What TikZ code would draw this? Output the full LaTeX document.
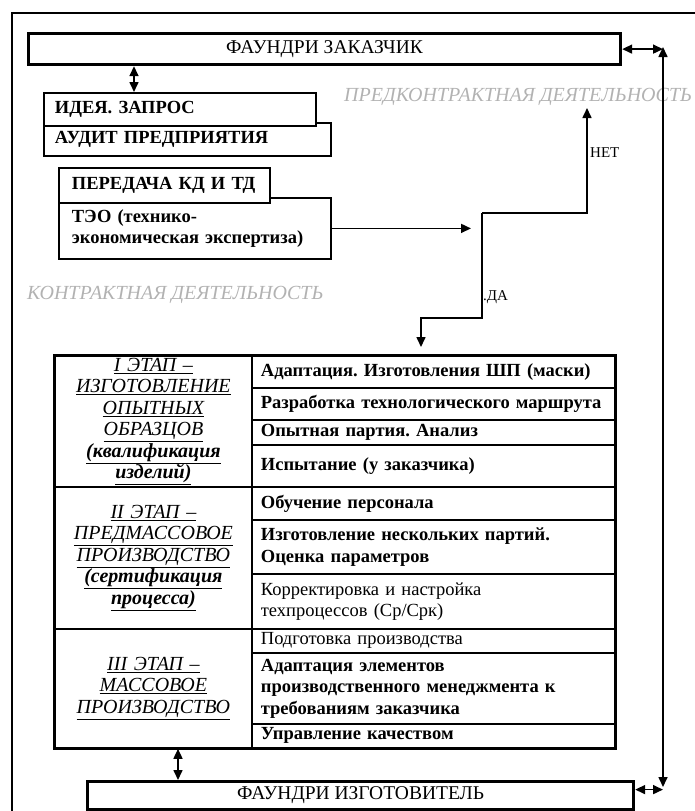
\documentclass[tikz,border=0pt]{standalone}
\usepackage{fontspec}
\setmainfont{Liberation Serif}
\usetikzlibrary{arrows.meta}
\newcommand{\stg}[1]{\underline{#1}}
\frenchspacing

\begin{document}
\begin{tikzpicture}[x=1pt, y=-1pt,
    every node/.style={font=\fontsize{18.5}{21.5}\selectfont, inner sep=0pt},
    thickbox/.style={draw, line width=3.2pt, fill=white, anchor=north west, font=\fontsize{19.5}{22}\selectfont},
    plainbox/.style={draw, line width=1.8pt, fill=white, anchor=north west, align=left, inner xsep=11pt, font=\fontsize{18.5}{21.5}\selectfont\bfseries},
    cell/.style={draw, line width=1.8pt, anchor=north west, align=left, inner xsep=9pt, text width=345pt, font=\fontsize{18.5}{21.5}\selectfont\bfseries},
    stagecell/.style={draw, line width=1.8pt, anchor=north west, align=center, text width=197pt, font=\fontsize{20}{21.5}\selectfont\itshape},
    phase/.style={text=gray!60, anchor=west, font=\fontsize{20}{24}\selectfont\itshape},
    lbl/.style={anchor=west, font=\fontsize{15}{17}\selectfont},
    arr/.style={line width=1.6pt, -{Triangle[length=10pt, width=9pt]}},
    dblarr/.style={line width=1.6pt, {Triangle[length=10pt, width=9pt]}-{Triangle[length=10pt, width=9pt]}}
]
\useasboundingbox (0,0) rectangle (695,811);
\draw[line width=1.6pt] (695,13) -- (12,13) -- (12,811);

\node[thickbox, minimum width=592, minimum height=31] (zak) at (27,32) {ФАУНДРИ ЗАКАЗЧИК};
\node[thickbox, minimum width=546, minimum height=28] (izg) at (86,780) {ФАУНДРИ ИЗГОТОВИТЕЛЬ};

\node[plainbox, text width=265, minimum height=33] (audit) at (43,122) {АУДИТ ПРЕДПРИЯТИЯ};
\node[plainbox, text width=250, minimum height=33] (idea) at (43,92) {ИДЕЯ. ЗАПРОС};
\node[plainbox, inner xsep=13pt, text width=246, minimum height=61] (teo) at (58,197) {ТЭО (технико-\\экономическая экспертиза)};
\node[plainbox, inner xsep=13pt, text width=185, minimum height=35] (kd) at (58,167) {ПЕРЕДАЧА КД И ТД};

\node[phase] (pre) at (344,97) {ПРЕДКОНТРАКТНАЯ ДЕЯТЕЛЬНОСТЬ};
\node[phase] (con) at (27,295) {КОНТРАКТНАЯ ДЕЯТЕЛЬНОСТЬ};

\node[stagecell, minimum height=131] (st1) at (54,355) {\stg{I ЭТАП –}\\\stg{ИЗГОТОВЛЕНИЕ}\\\stg{ОПЫТНЫХ}\\\stg{ОБРАЗЦОВ}\\\stg{\bfseries(квалификация}\\\stg{\bfseries изделий)}};
\node[stagecell, minimum height=142] (st2) at (54,486) {\stg{II ЭТАП –}\\\stg{ПРЕДМАССОВОЕ}\\\stg{ПРОИЗВОДСТВО}\\\stg{\bfseries(сертификация}\\\stg{\bfseries процесса)}};
\node[stagecell, minimum height=119] (st3) at (54,628) {\stg{III ЭТАП –}\\\stg{МАССОВОЕ}\\\stg{ПРОИЗВОДСТВО}};

\foreach \n/\top/\h/\txt in {
    1/355/32/{Адаптация. Изготовления ШП (маски)},
    2/387/32/{Разработка технологического маршрута},
    3/419/25/{Опытная партия. Анализ},
    4/444/42/{Испытание (у заказчика)},
    5/486/33/{Обучение персонала},
    6/519/54/{Изготовление нескольких партий.\\Оценка параметров},
    7/573/55/{\mdseries Корректировка и настройка\\техпроцессов (Ср/Срк)},
    8/628/24/{\mdseries Подготовка производства},
    9/652/71/{Адаптация элементов\\производственного менеджмента к\\требованиям заказчика},
    10/723/24/{Управление качеством}}
  \node[cell, minimum height=\h] (c\n) at (251,\top) {\txt};
\draw[line width=2.6pt] (st1.north west) rectangle (c10.south east);

\draw[dblarr] ([xshift=107pt]zak.south west) -- ([xshift=107pt]zak.south west |- idea.north);
\draw[dblarr] ([xshift=124pt]st3.south west) -- ([xshift=124pt]st3.south west |- izg.north);

\coordinate (rtop) at (663,47);
\coordinate (rbot) at (663,787);
\draw[dblarr] (zak.east) -- (zak.east -| rtop);
\draw[dblarr] (rtop) -- (rbot);
\draw[dblarr] ([yshift=6pt]izg.east) -- ([yshift=6pt]izg.east -| rbot);

\coordinate (decin) at (471,227);
\coordinate (fork) at (482,213);
\coordinate (noend) at (587,108);
\coordinate (yesturn) at (482,318);
\coordinate (yesdrop) at (421,318);
\draw[arr] (teo.east) -- (teo.east -| decin);
\draw[arr] (fork) -| (noend);
\draw[arr, shorten >=8pt] (fork) -- (yesturn) -- (yesdrop) -- (yesdrop |- c1.north);

\node[lbl] (net) at (590,153) {НЕТ};
\node[lbl] (da) at (483,297) {.ДА};
\end{tikzpicture}
\end{document}
